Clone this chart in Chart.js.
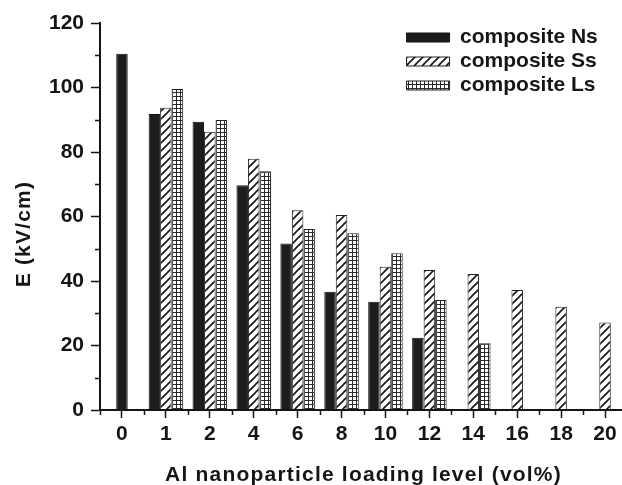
<!DOCTYPE html>
<html>
<head>
<meta charset="utf-8">
<title>E vs Al nanoparticle loading</title>
<script src="https://cdn.jsdelivr.net/npm/chart.js@4.4.1/dist/chart.umd.min.js"></script>
<style>
  html, body { margin: 0; padding: 0; background: #fff; overflow: hidden; }
  canvas { display: block; }
</style>
</head>
<body>
<canvas id="breakdownChart" width="627" height="485"></canvas>
<script>
// ==================== DATA ====================
const loadingLevels = ['0', '1', '2', '4', '6', '8', '10', '12', '14', '16', '18', '20'];
const compositeNs = [110.5, 91.8, 89.4, 69.7, 51.6, 36.7, 33.6, 22.4, null, null, null, null];
const compositeSs = [null, 93.7, 86.3, 77.9, 61.9, 60.5, 44.4, 43.4, 42.2, 37.2, 32.0, 27.1];
const compositeLs = [null, 99.5, 89.9, 74.0, 56.1, 54.8, 48.6, 34.1, 20.7, null, null, null];
const yTicksMajor = [0, 20, 40, 60, 80, 100, 120];

const FONT = "'Liberation Sans', Arial, Helvetica, sans-serif";
const INK = '#151515';

// ==================== FILL PATTERNS ====================
function hatchPattern() {
  const c = document.createElement('canvas');
  c.width = c.height = 8;
  const g = c.getContext('2d');
  g.fillStyle = '#fff';
  g.fillRect(0, 0, 8, 8);
  g.strokeStyle = INK;
  g.lineWidth = 1.6;
  g.beginPath();
  g.moveTo(-1, 9); g.lineTo(9, -1);
  g.moveTo(-1, 1); g.lineTo(1, -1);
  g.moveTo(7, 9); g.lineTo(9, 7);
  g.stroke();
  return g.createPattern(c, 'repeat');
}

function gridPattern() {
  const c = document.createElement('canvas');
  c.width = c.height = 4;
  const g = c.getContext('2d');
  g.fillStyle = '#fff';
  g.fillRect(0, 0, 4, 4);
  g.fillStyle = '#2a2a2a';
  g.fillRect(0, 0, 4, 1);
  g.fillRect(0, 0, 1, 4);
  return g.createPattern(c, 'repeat');
}

// ==================== PLUGINS ====================
// spaced lettering for axis titles only (tick labels and legend are drawn after datasets)
const titleSpacing = {
  id: 'titleSpacing',
  beforeDraw(chart) { chart.ctx.letterSpacing = '1.2px'; },
  beforeDatasetsDraw(chart) { chart.ctx.letterSpacing = '0px'; }
};

// legend sits inside the plot, upper right, drawn on top of the bars
const legendInside = {
  id: 'legendInside',
  beforeLayout(chart) {
    const lg = chart.legend;
    if (lg) lg._layers = () => [{ z: 2, draw: (area) => lg.draw(area) }];
  },
  afterLayout(chart) {
    const lg = chart.legend, area = chart.chartArea;
    const w = lg.width, h = lg.height;
    lg.left = area.left + area.width * 0.576;
    lg.right = lg.left + w;
    lg.top = area.top + 1;
    lg.bottom = lg.top + h;
  }
};

// short minor ticks between the major ones
const minorTicks = {
  id: 'minorTicks',
  afterDraw(chart) {
    const { ctx, scales: { x, y } } = chart;
    ctx.save();
    ctx.strokeStyle = INK;
    ctx.lineWidth = 1.5;
    ctx.beginPath();
    for (let i = 0; i < yTicksMajor.length - 1; i++) {
      const py = Math.round(y.getPixelForValue((yTicksMajor[i] + yTicksMajor[i + 1]) / 2)) + 0.5;
      ctx.moveTo(y.right - 5, py);
      ctx.lineTo(y.right, py);
    }
    for (let i = 0; i <= loadingLevels.length; i++) {
      const px = Math.round(x.getPixelForValue(i - 0.5)) + 0.5;
      ctx.moveTo(px, x.top);
      ctx.lineTo(px, x.top + 5);
    }
    ctx.stroke();
    ctx.restore();
  }
};

// ==================== CHART ====================
Chart.defaults.color = INK;
Chart.defaults.font.family = FONT;

new Chart(document.getElementById('breakdownChart'), {
  type: 'bar',
  data: {
    labels: loadingLevels,
    datasets: [
      {
        label: 'composite Ns',
        data: compositeNs,
        backgroundColor: '#1d1d1d',
        borderColor: '#111',
        borderWidth: 1,
        skipNull: true,
        maxBarThickness: 11.5
      },
      {
        label: 'composite Ss',
        data: compositeSs,
        backgroundColor: hatchPattern(),
        borderColor: '#222',
        borderWidth: 1
      },
      {
        label: 'composite Ls',
        data: compositeLs,
        backgroundColor: gridPattern(),
        borderColor: '#222',
        borderWidth: 1
      }
    ]
  },
  options: {
    responsive: false,
    animation: false,
    categoryPercentage: 0.786,
    barPercentage: 1,
    layout: { padding: { top: 23, left: 0, right: 0, bottom: 0 } },
    plugins: {
      tooltip: { enabled: false },
      legend: {
        position: 'chartArea',
        align: 'start',
        labels: {
          boxWidth: 43,
          boxHeight: 9,
          padding: 3,
          font: { size: 21, weight: 'bold', family: FONT }
        }
      }
    },
    scales: {
      x: {
        offset: true,
        grid: {
          offset: false,
          drawOnChartArea: false,
          tickLength: 8,
          tickWidth: 1.5,
          tickColor: INK
        },
        border: { color: INK, width: 2, z: 1 },
        ticks: { font: { size: 21, weight: 'bold' }, padding: 4, z: 1, color: INK },
        title: {
          display: true,
          text: 'Al nanoparticle loading level (vol%)',
          font: { size: 21, weight: 'bold' },
          color: INK,
          padding: { top: 0, bottom: -3 }
        },
        afterFit: (scale) => { scale.height = 75; }
      },
      y: {
        min: 0,
        max: 120,
        grid: {
          drawOnChartArea: false,
          tickLength: 9,
          tickWidth: 1.5,
          tickColor: INK
        },
        border: { color: INK, width: 2, z: 1 },
        ticks: { stepSize: 20, font: { size: 21, weight: 'bold' }, padding: 7, z: 1, color: INK },
        title: {
          display: true,
          text: 'E (kV/cm)     ',
          font: { size: 21, weight: 'bold' },
          color: INK,
          padding: { top: 12, bottom: 0 }
        },
        afterFit: (scale) => { scale.width = 100; }
      }
    }
  },
  plugins: [titleSpacing, legendInside, minorTicks]
});
</script>
</body>
</html>
